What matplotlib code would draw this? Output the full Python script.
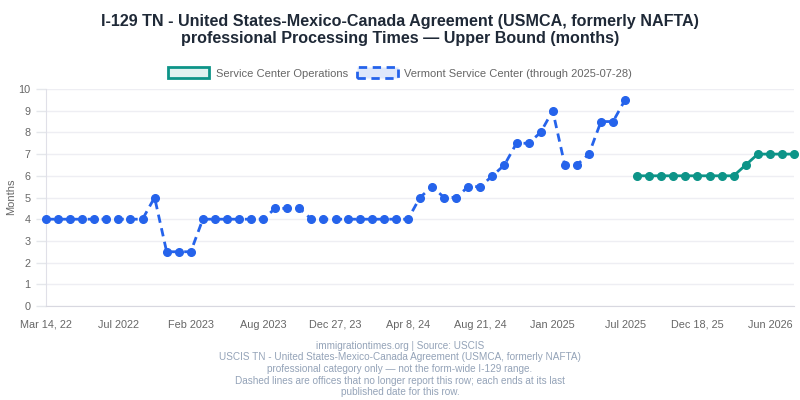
import numpy as np
import matplotlib
matplotlib.use('Agg')
import matplotlib.pyplot as plt
from matplotlib.patches import Patch

plt.rcParams['font.family'] = ['Liberation Sans', 'DejaVu Sans']

nan = np.nan

# 各系列の値（月）: 63 カテゴリ、空きは nan
vermont = [4, 4, 4, 4, 4, 4, 4, 4, 4, 5, 2.5, 2.5, 2.5, 4, 4, 4, 4, 4, 4,
           4.5, 4.5, 4.5, 4, 4, 4, 4, 4, 4, 4, 4, 4,
           5, 5.5, 5, 5, 5.5, 5.5, 6, 6.5, 7.5, 7.5, 8, 9, 6.5, 6.5, 7, 8.5, 8.5, 9.5,
           nan, nan, nan, nan, nan, nan, nan, nan, nan, nan, nan, nan, nan, nan]
operations = [nan] * 49 + [6, 6, 6, 6, 6, 6, 6, 6, 6, 6.5, 7, 7, 7, 7]

tick_labels = ['Mar 14, 22', 'Jul 2022', 'Feb 2023', 'Aug 2023', 'Dec 27, 23', 'Apr 8, 24',
               'Aug 21, 24', 'Jan 2025', 'Jul 2025', 'Dec 18, 25', 'Jun 2026']
tick_step = 6

title = ('I-129 TN - United States-Mexico-Canada Agreement (USMCA, formerly NAFTA)\n'
         'professional Processing Times \u2014 Upper Bound (months)')
footer = ('immigrationtimes.org | Source: USCIS\n'
          'USCIS TN - United States-Mexico-Canada Agreement (USMCA, formerly NAFTA)\n'
          'professional category only \u2014 not the form-wide I-129 range.\n'
          'Dashed lines are offices that no longer report this row; each ends at its last\n'
          'published date for this row.')

BLUE = '#2563eb'
TEAL = '#0d9488'
GRAY = '#666666'

fig = plt.figure(figsize=(8, 4), dpi=100)
ax = fig.add_axes([46 / 800, 1 - 306 / 400, 748 / 800, 217 / 400])

x = np.arange(len(vermont))
ax.plot(x, vermont, color=BLUE, lw=2, ls=(0, (3, 2)), marker='o', ms=5.5,
        mfc=BLUE, mec=BLUE, clip_on=False, zorder=3)
ax.plot(x, operations, color=TEAL, lw=2, marker='o', ms=5.5,
        mfc=TEAL, mec=TEAL, clip_on=False, zorder=3)

ax.set_xlim(0, len(vermont) - 1)
ax.set_ylim(0, 10)
ax.set_yticks(range(0, 11))
ax.set_xticks(x[::tick_step])
ax.set_xticklabels(tick_labels)
ax.tick_params(axis='both', colors='#e5e7eb', labelcolor=GRAY, labelsize=7.8, length=7, width=1)
ax.tick_params(axis='x', length=0, pad=10)
ax.tick_params(axis='y', pad=4)
ax.grid(axis='y', color='#eeeef3', lw=1)
for s in ['top', 'right']:
    ax.spines[s].set_visible(False)
ax.spines['left'].set_color('#e0e0e8')
ax.spines['bottom'].set_color('#d8d8e0')

fig.text(11 / 800, 1 - 197 / 400, 'Months', rotation=90, ha='center', va='center',
         color=GRAY, fontsize=8)

fig.text(0.5, 1 - 30 / 400, title, ha='center', va='center', fontsize=11.6,
         fontweight='bold', color='#1f2937', linespacing=1.2)

handles = [Patch(facecolor='#e0f2f0', edgecolor=TEAL, lw=2, label='Service Center Operations'),
           Patch(facecolor='#dfe8fb', edgecolor=BLUE, lw=2, ls=(0, (3, 2)),
                 label='Vermont Service Center (through 2025-07-28)')]
fig.legend(handles=handles, loc='center', bbox_to_anchor=(0.5, 1 - 73 / 400), ncol=2,
           frameon=False, fontsize=8, labelcolor=GRAY, handlelength=3.7, handleheight=1.1,
           handletextpad=0.55, columnspacing=0.8)

fig.text(0.5, 1 - 369 / 400, footer, ha='center', va='center', fontsize=7.2,
         color='#94a3b8', linespacing=1.2)

fig.savefig('out.png', dpi=100)
